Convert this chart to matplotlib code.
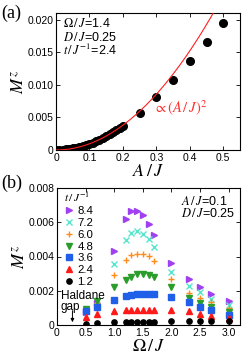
import matplotlib
matplotlib.use("Agg")
import matplotlib.pyplot as plt
import numpy as np

plt.rcParams['font.family'] = ['Liberation Sans', 'DejaVu Sans']
plt.rcParams['mathtext.fontset'] = 'stix'

# ---- Panel (a) data ----
A_dense = [0.0, 0.01, 0.02, 0.03, 0.04, 0.05, 0.06, 0.07, 0.08, 0.09, 0.10,
           0.11, 0.12, 0.13, 0.14, 0.15, 0.16, 0.17, 0.18, 0.19, 0.20]
M_dense = [0.0, 0.00002, 0.00005, 0.0001, 0.00016, 0.00024, 0.00034, 0.00046,
           0.0006, 0.00076, 0.00094, 0.00114, 0.00135, 0.00158, 0.00183, 0.0021,
           0.00239, 0.0027, 0.00302, 0.00336, 0.0037]
A_sparse = [0.25, 0.30, 0.35, 0.40, 0.45, 0.50]
M_sparse = [0.0057, 0.0081, 0.0108, 0.0137, 0.0166, 0.0195]
fit_coef = 0.095

# ---- Panel (b) data ----
omega = [0.5, 0.7, 1.0, 1.2, 1.3, 1.4, 1.5, 1.6, 1.7, 2.0, 2.3, 2.5, 2.7, 3.0]
t_labels = ["8.4", "7.2", "6.0", "4.8", "3.6", "2.4", "1.2"]
M_84 = [0.00075, 0.00128, 0.00432, 0.00619, 0.00665, 0.00668, 0.00641, 0.0059, 0.00527, 0.00364, 0.00271, 0.00222, 0.00181, 0.00142]
M_72 = [0.0009, 0.0014, 0.00358, 0.00497, 0.00535, 0.00547, 0.0053, 0.005, 0.00456, 0.00312, 0.0023, 0.00193, 0.00153, 0.00114]
M_60 = [0.00092, 0.0013, 0.0029, 0.00377, 0.00407, 0.00415, 0.00413, 0.00403, 0.00376, 0.0027, 0.00187, 0.00157, 0.00134, 0.00098]
M_48 = [0.00095, 0.0014, 0.0022, 0.00265, 0.00283, 0.00295, 0.00297, 0.0029, 0.00278, 0.00224, 0.00157, 0.00128, 0.00108, 0.00073]
M_36 = [0.0008, 0.00108, 0.00147, 0.00171, 0.00177, 0.00181, 0.00183, 0.00183, 0.00182, 0.00163, 0.00132, 0.00106, 0.00088, 0.00059]
M_24 = [0.00045, 0.00062, 0.00082, 0.00088, 0.00089, 0.0009, 0.0009, 0.0009, 0.0009, 0.00088, 0.00083, 0.00063, 0.00053, 0.0004]
M_12 = [0.00006, 0.0001, 0.00015, 0.0002, 0.0002, 0.0002, 0.0002, 0.0002, 0.0002, 0.00022, 0.00024, 0.00024, 0.00024, 0.00024]
series_b = [M_84, M_72, M_60, M_48, M_36, M_24, M_12]
markers = ['>', 'x', '+', 'v', 's', '^', 'o']
colors = ['#a040f0', '#55e6cc', '#ff8c1a', '#2a9d2a', '#2060e8', '#ff1a1a', '#000000']

W, H = 249, 357
fig = plt.figure(figsize=(W / 100, H / 100), dpi=100)

def px_axes(l, t, r, b):
    return fig.add_axes([l / W, 1 - b / H, (r - l) / W, (b - t) / H])

def style(ax):
    ax.tick_params(direction='in', length=3, width=0.6, labelsize=7.5, pad=2,
                   top=True, right=True)
    for s in ax.spines.values():
        s.set_linewidth(0.8)

# Panel (a)
axa = px_axes(56, 13, 240, 150)
style(axa)
xf = np.linspace(0, 0.55, 200)
axa.plot(xf, fit_coef * xf ** 2, color='#ff2020', lw=0.8, zorder=3)
axa.plot(A_dense, M_dense, 'o', color='black', ms=5.5, zorder=2)
axa.plot(A_sparse, M_sparse, 'o', color='black', ms=5.5, zorder=2)
axa.set_xlim(0, 0.55)
axa.set_ylim(0, 0.021)
axa.set_xticks([0, 0.1, 0.2, 0.3, 0.4, 0.5])
axa.set_xticklabels(['0', '0.1', '0.2', '0.3', '0.4', '0.5'])
axa.set_yticks([0, 0.005, 0.010, 0.015, 0.020])
axa.set_yticklabels(['0', '0.005', '0.010', '0.015', '0.020'])
axa.set_xlabel(r'$A\,/\,J$', fontsize=13, labelpad=0)
axa.set_ylabel(r'$M^z$', fontsize=13, labelpad=0)
axa.text(0.04, 0.92, r'$\Omega\,/\,J$=1.4', transform=axa.transAxes, fontsize=9, va='center')
axa.text(0.04, 0.82, r'$D\,/\,J$=0.25', transform=axa.transAxes, fontsize=9, va='center')
axa.text(0.04, 0.725, r'$t\,/\,J^{-1}$=2.4', transform=axa.transAxes, fontsize=9, va='center')
axa.text(0.525, 0.31, r'$\propto(A\,/\,J)^2$', transform=axa.transAxes, fontsize=10.5,
         color='#ff3030', va='center')
fig.text(1 / W, 1 - 13 / H, '(a)', fontsize=13, family='Liberation Serif', va='center')

# Panel (b)
axb = px_axes(57, 188, 240, 325)
style(axb)
for M, mk, c, lab in zip(series_b, markers, colors, t_labels):
    kw = dict(ms=3.8)
    if mk in ('x', '+'):
        kw = dict(ms=4.5, mew=1.0)
    axb.plot(omega, M, mk, color=c, label=lab, ls='none', **kw)
axb.set_xlim(0, 3.2)
axb.set_ylim(0, 0.008)
axb.set_xticks([0, 0.5, 1.0, 1.5, 2.0, 2.5, 3.0])
axb.set_xticklabels(['0', '0.5', '1.0', '1.5', '2.0', '2.5', '3.0'])
axb.set_yticks([0, 0.002, 0.004, 0.006, 0.008])
axb.set_yticklabels(['0', '0.002', '0.004', '0.006', '0.008'])
axb.set_xlabel(r'$\Omega\,/\,J$', fontsize=13, labelpad=0)
axb.set_ylabel(r'$M^z$', fontsize=13, labelpad=0)
leg = axb.legend(loc='upper left', bbox_to_anchor=(0.03, 0.99),
                 title=r'$t\,/\,J^{-1}$', fontsize=8.2,
                 title_fontsize=8.2, frameon=False, numpoints=1,
                 handlelength=0.9, handletextpad=0.3, labelspacing=0.16,
                 borderaxespad=0.0, borderpad=0.1)
leg._legend_box.align = 'left'
axb.text(0.68, 0.905, r'$A\,/\,J$=0.1', transform=axb.transAxes, fontsize=9, va='center')
axb.text(0.68, 0.815, r'$D\,/\,J$=0.25', transform=axb.transAxes, fontsize=9, va='center')
axb.text(0.02, 0.215, 'Haldane', transform=axb.transAxes, fontsize=8.5, va='center')
axb.text(0.02, 0.13, 'gap', transform=axb.transAxes, fontsize=8.5, va='center')
axb.annotate('', xy=(0.27, 0.0), xytext=(0.27, 0.001),
             arrowprops=dict(arrowstyle='-|>', color='black', lw=0.7,
                             mutation_scale=5))
fig.text(1 / W, 1 - 183 / H, '(b)', fontsize=13, family='Liberation Serif', va='center')

fig.savefig('out.png', dpi=100)
